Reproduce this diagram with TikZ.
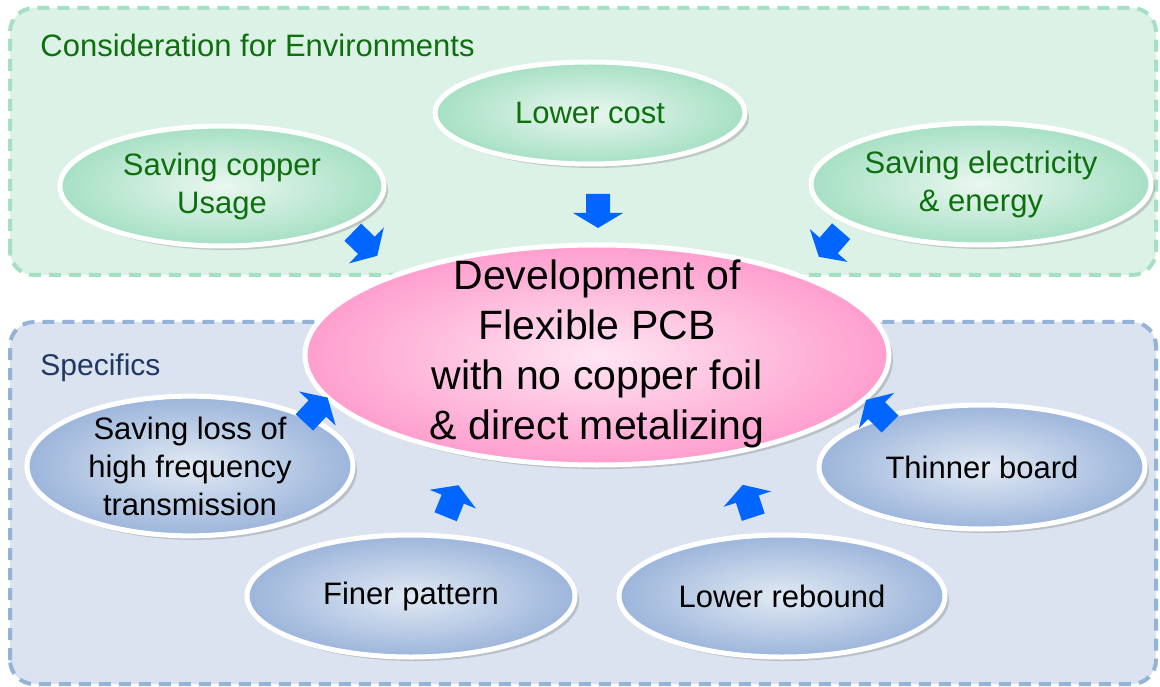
\documentclass[tikz,border=0pt]{standalone}
\usepackage{fontspec}
\setmainfont{Liberation Sans}
\usetikzlibrary{shapes.geometric,shadows}

\definecolor{envfill}{HTML}{DDF2E6}
\definecolor{envline}{HTML}{A6E0C4}
\definecolor{envtext}{HTML}{0E6F0E}
\definecolor{specfill}{HTML}{DAE3EF}
\definecolor{specline}{HTML}{95B3D7}
\definecolor{spectext}{HTML}{1F3864}
\definecolor{pinkin}{HTML}{FFE6F2}
\definecolor{pinkout}{HTML}{FF9ECE}
\definecolor{bluein}{HTML}{E2EAF4}
\definecolor{blueout}{HTML}{9CB5DB}
\definecolor{arrowblue}{HTML}{0066FF}

\tikzset{
  groupbox/.style={line width=2pt, dash pattern=on 6pt off 4pt, rounded corners=12pt},
  oval/.style={ellipse, draw=white, line width=2.5pt, align=center, inner sep=0pt,
    drop shadow={shadow xshift=2pt, shadow yshift=-2pt, opacity=0.35},
    font=\fontsize{15.5}{19}\selectfont},
  greenoval/.style={oval, shading=radial, inner color=envfill!60!white,
    outer color=envline, text=envtext},
  blueoval/.style={oval, shading=radial, inner color=bluein,
    outer color=blueout, text=black},
  fatarrow/.pic={\fill[arrowblue] (-17,-12) -- (2,-12) -- (2,-25) -- (17,0)
    -- (2,25) -- (2,12) -- (-17,12) -- cycle;}
}

\begin{document}
\begin{tikzpicture}[x=0.5pt,y=0.5pt]
  \useasboundingbox (0,0) rectangle (1160,686);
  % the two groups
  \draw[groupbox, draw=envline, fill=envfill] (10,411) rectangle (1156,678);
  \draw[groupbox, draw=specline, fill=specfill] (10,2) rectangle (1156,364);
  \node[anchor=base west, inner sep=0pt, text=envtext, font=\fontsize{15.5}{19}\selectfont] (envtitle) at (40,629) {Consideration for Environments};
  \node[anchor=base west, inner sep=0pt, text=spectext, font=\fontsize{15}{18}\selectfont] (spectitle) at (40,311) {Specifics};

  % environment ovals
  \node[greenoval, minimum width=155pt, minimum height=51pt] (cost) at (590,573) {Lower cost};
  \node[greenoval, minimum width=162pt, minimum height=60pt] (copper) at (222,500) {Saving copper\\Usage};
  \node[greenoval, minimum width=170pt, minimum height=61pt] (energy) at (981,502) {Saving electricity\\\& energy};

  % main oval
  \node[oval, shading=radial, inner color=pinkin, outer color=pinkout,
    inner ysep=-18pt, minimum width=292pt, minimum height=110pt, font=\fontsize{20.5}{25}\selectfont]
    (main) at (597,331) {Development of\\Flexible PCB\\with no copper foil\\\& direct metalizing\\[-20pt]};

  % specific ovals
  \node[blueoval, minimum width=163pt, minimum height=62pt] (loss) at (190,220) {Saving loss of\\high frequency\\transmission};
  \node[blueoval, minimum width=163pt, minimum height=62pt] (thin) at (982,219) {Thinner board};
  \node[blueoval, minimum width=164pt, minimum height=61pt] (finer) at (411,90) {Finer pattern};
  \node[blueoval, minimum width=163pt, minimum height=61pt] (rebound) at (782,90) {Lower rebound};

  % arrows into the main oval
  \pic[rotate=-44] at (365,442) {fatarrow};
  \pic[rotate=-90] at (598,475) {fatarrow};
  \pic[rotate=-131] at (830,442) {fatarrow};
  \pic[rotate=47] at (316,276) {fatarrow};
  \pic[rotate=68] at (452,185) {fatarrow};
  \pic[rotate=108] at (748,185) {fatarrow};
  \pic[rotate=135] at (878,274) {fatarrow};
\end{tikzpicture}
\end{document}
